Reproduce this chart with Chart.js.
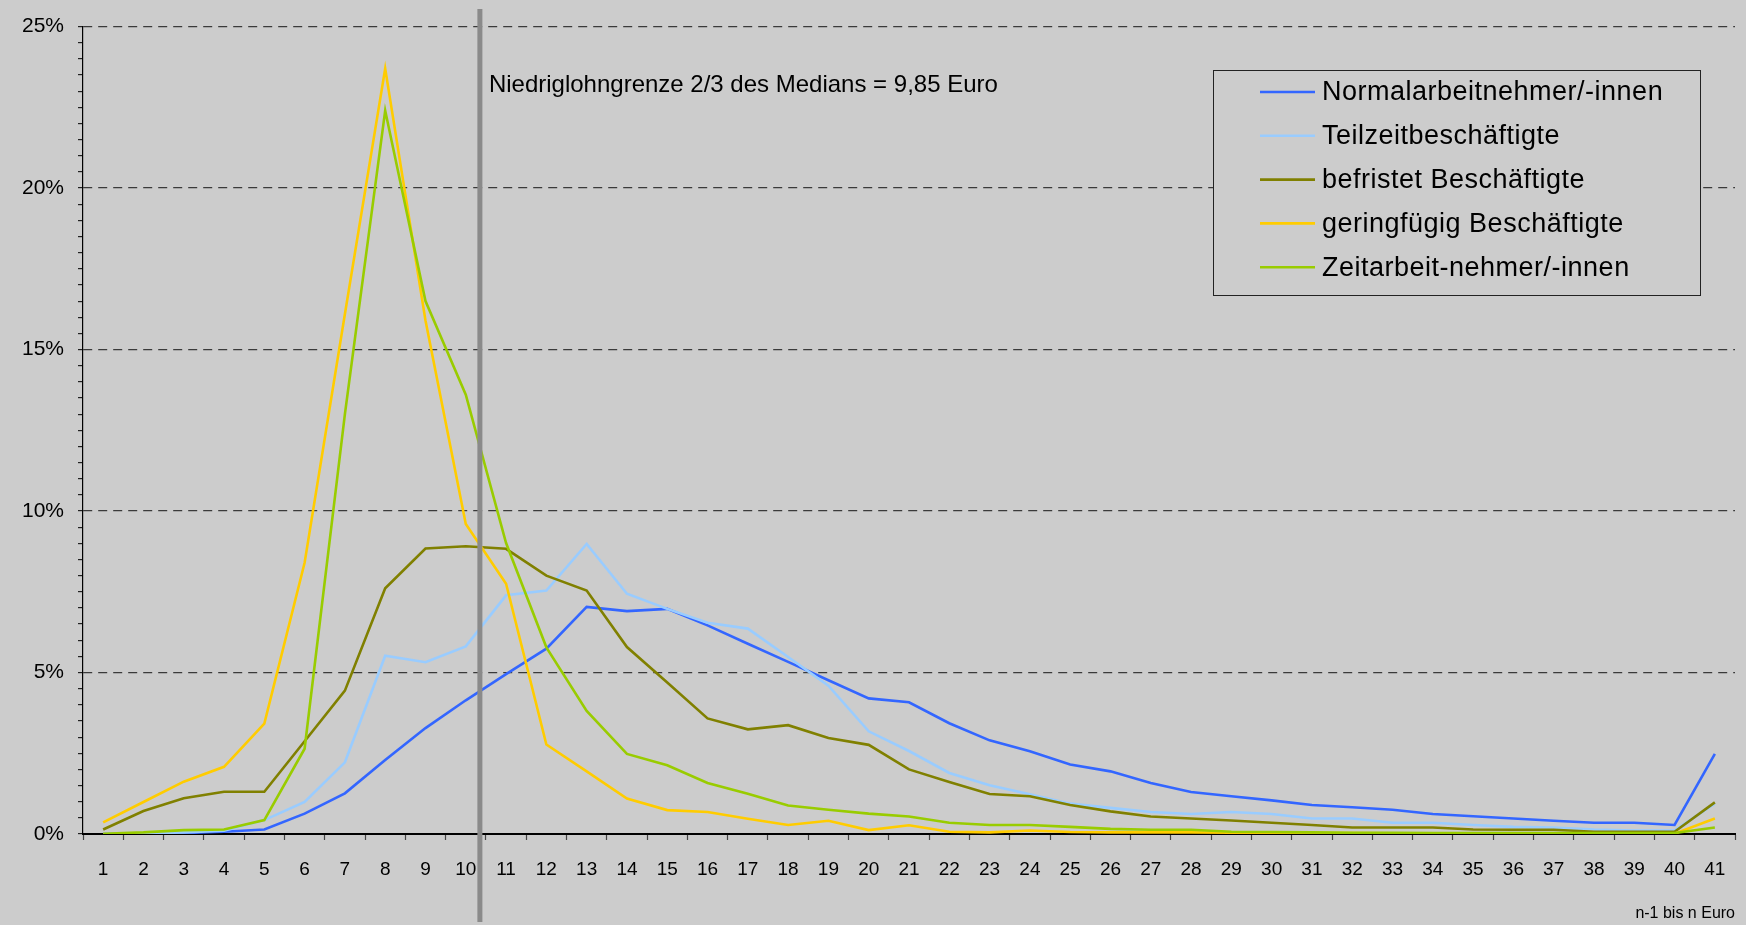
<!DOCTYPE html>
<html>
<head>
<meta charset="utf-8">
<script src="https://cdn.jsdelivr.net/npm/chart.js@4.4.1/dist/chart.umd.min.js"></script>
<style>
  html, body { margin: 0; padding: 0; background: #cccccc; }
  #wrap { width: 1746px; height: 925px; position: relative; }
</style>
</head>
<body>
<div id="wrap"><canvas id="c"></canvas></div>
<script>
// ---- data ----
const categories = ["1","2","3","4","5","6","7","8","9","10","11","12","13","14","15","16","17","18","19","20",
  "21","22","23","24","25","26","27","28","29","30","31","32","33","34","35","36","37","38","39","40","41"];

const seriesNames = [
  "Normalarbeitnehmer/-innen",
  "Teilzeitbeschäftigte",
  "befristet Beschäftigte",
  "geringfügig Beschäftigte",
  "Zeitarbeit-nehmer/-innen"
];

const normalarbeitnehmer = [0,0.01,0.03,0.07,0.14,0.63,1.26,2.29,3.28,4.14,4.95,5.74,7.03,6.90,6.97,6.46,5.89,5.33,4.76,4.20,
  4.08,3.43,2.90,2.56,2.15,1.94,1.58,1.30,1.17,1.04,0.90,0.83,0.75,0.62,0.55,0.48,0.41,0.35,0.35,0.28,2.48];

const teilzeit = [0,0.02,0.05,0.10,0.43,0.99,2.22,5.52,5.32,5.81,7.39,7.54,8.98,7.44,6.97,6.54,6.36,5.48,4.59,3.18,
  2.57,1.89,1.51,1.23,0.94,0.81,0.68,0.62,0.68,0.62,0.48,0.48,0.35,0.35,0.28,0.22,0.20,0.14,0.11,0.11,0.94];

const befristet = [0.14,0.71,1.11,1.31,1.31,2.87,4.44,7.61,8.84,8.91,8.83,8.00,7.54,5.79,4.69,3.58,3.24,3.37,2.97,2.76,
  2.00,1.61,1.24,1.17,0.90,0.70,0.54,0.48,0.42,0.35,0.28,0.20,0.20,0.20,0.14,0.13,0.13,0.07,0.07,0.07,0.98];

const geringfuegig = [0.36,0.99,1.62,2.08,3.42,8.40,16.1,23.7,15.9,9.60,7.75,2.77,1.94,1.10,0.74,0.68,0.47,0.28,0.41,0.12,
  0.27,0.07,0.05,0.11,0.06,0.05,0.05,0.05,0.04,0.03,0.03,0.03,0.02,0.02,0.01,0.01,0.01,0.01,0.01,0.01,0.48];

const zeitarbeit = [0.01,0.05,0.12,0.14,0.43,2.64,13.0,22.4,16.5,13.6,9.01,5.78,3.81,2.48,2.13,1.58,1.25,0.88,0.75,0.63,
  0.54,0.35,0.28,0.28,0.22,0.16,0.13,0.13,0.07,0.06,0.05,0.04,0.04,0.03,0.03,0.03,0.03,0.03,0.03,0.03,0.20];

const yTickValues = [0, 5, 10, 15, 20, 25];
const lowWageThreshold = 9.85; // Euro
const annotationText = "Niedriglohngrenze 2/3 des Medians = 9,85 Euro";
const xAxisTitle = "n-1 bis n Euro";

// ---- styles ----
const seriesColors = ["#3366ff", "#99ccff", "#808000", "#ffcc00", "#99cc00"];
const FONT = '"Liberation Sans", Arial, sans-serif';

const seriesValues = [normalarbeitnehmer, teilzeit, befristet, geringfuegig, zeitarbeit];

const datasets = seriesValues.map((vals, i) => ({
  label: seriesNames[i],
  data: vals,
  borderColor: seriesColors[i],
  backgroundColor: seriesColors[i],
  borderWidth: 2.6,
  pointRadius: 0,
  pointHoverRadius: 0,
  tension: 0,
  fill: false,
  order: seriesValues.length - i
}));

const lowWagePlugin = {
  id: 'lowWage',
  afterDatasetsDraw(chart) {
    const ctx = chart.ctx;
    const xs = chart.scales.x;
    const x = xs.getPixelForValue(lowWageThreshold - 0.5);
    ctx.save();
    ctx.strokeStyle = '#8a8a8a';
    ctx.lineWidth = 5;
    ctx.beginPath();
    ctx.moveTo(x, 9);
    ctx.lineTo(x, 922);
    ctx.stroke();
    ctx.fillStyle = '#000';
    ctx.font = '24px ' + FONT;
    ctx.textBaseline = 'middle';
    ctx.textAlign = 'left';
    ctx.fillText(annotationText, x + 9, 85);
    ctx.restore();
  }
};

const boxLegendPlugin = {
  id: 'boxLegend',
  afterDatasetsDraw(chart) {
    const ctx = chart.ctx;
    ctx.save();
    ctx.fillStyle = '#cccccc';
    ctx.fillRect(1213.5, 70.5, 487, 225);
    ctx.strokeStyle = '#222';
    ctx.lineWidth = 1;
    ctx.strokeRect(1213.5, 70.5, 487, 225);
    ctx.font = '27px ' + FONT;
    if ('letterSpacing' in ctx) ctx.letterSpacing = '0.5px';
    ctx.textBaseline = 'middle';
    ctx.textAlign = 'left';
    chart.data.datasets.forEach((ds, i) => {
      const y = 92 + i * 43.8;
      ctx.strokeStyle = ds.borderColor;
      ctx.lineWidth = 2.6;
      ctx.beginPath();
      ctx.moveTo(1260, y);
      ctx.lineTo(1315, y);
      ctx.stroke();
      ctx.fillStyle = '#000';
      ctx.fillText(ds.label, 1322, y + 1);
    });
    ctx.restore();
  }
};

new Chart(document.getElementById('c'), {
  type: 'line',
  data: { labels: categories, datasets },
  plugins: [boxLegendPlugin, lowWagePlugin],
  options: {
    responsive: true,
    maintainAspectRatio: false,
    animation: false,
    layout: { padding: { top: 23, right: 11, left: 0, bottom: 0 } },
    plugins: {
      legend: { display: false },
      tooltip: { enabled: false }
    },
    scales: {
      x: {
        type: 'category',
        offset: true,
        grid: {
          offset: true,
          drawOnChartArea: false,
          color: '#444',
          tickColor: '#444',
          tickLength: 6,
          tickWidth: 1.2
        },
        border: { color: '#000', width: 2 },
        ticks: {
          autoSkip: false,
          maxRotation: 0,
          color: '#000',
          padding: 18,
          font: { family: FONT, size: 19 }
        },
        title: {
          display: true,
          text: xAxisTitle,
          align: 'end',
          color: '#000',
          font: { family: FONT, size: 16 },
          padding: { top: 0, bottom: 2 }
        },
        afterFit(scale) { scale.height = 91; }
      },
      y: {
        min: 0,
        max: 25,
        ticks: {
          stepSize: 0.5,
          autoSkip: false,
          color: '#000',
          padding: 14,
          font: { family: FONT, size: 21 },
          callback: (v) => {
            const r = Math.round(v * 100) / 100;
            return yTickValues.includes(r) ? r + '%' : '';
          }
        },
        grid: {
          color: (c) => {
            const r = Math.round(c.tick.value * 100) / 100;
            return yTickValues.includes(r) ? '#3a3a3a' : 'rgba(0,0,0,0)';
          },
          lineWidth: 1.2,
          tickColor: '#222',
          tickLength: 5
        },
        border: { color: '#000', width: 1.2, dash: [9, 6] },
        afterFit(scale) { scale.width = 83; }
      }
    }
  }
});
</script>
</body>
</html>
